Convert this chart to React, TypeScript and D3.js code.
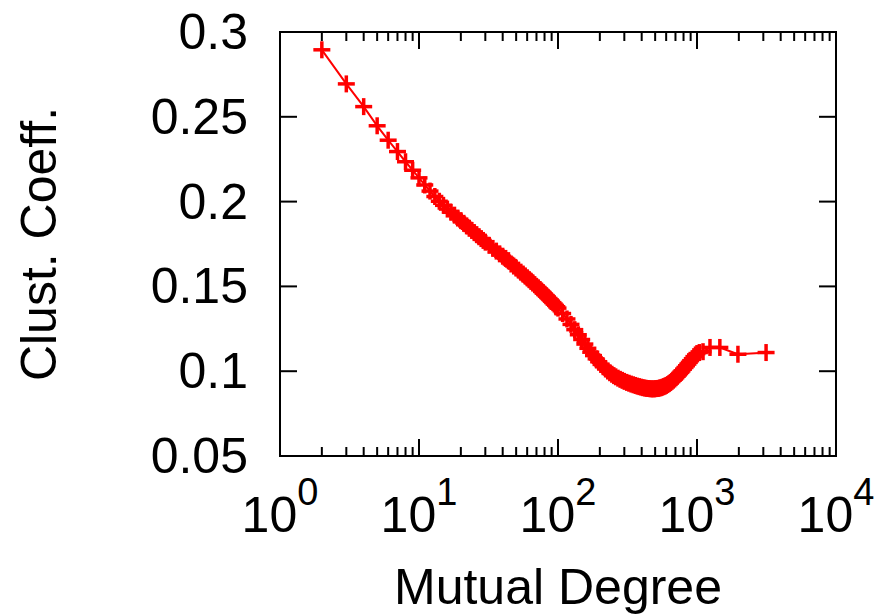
import React from "react";
import * as d3 from "d3";

// mutual degree (x) and clustering coefficient (y)
const degrees = [
  2, 3, 4, 5, 6, 7, 8, 9, 10, 11, 12, 13, 14, 15, 16, 17, 18, 19, 20, 21, 22,
  23, 24, 25, 26, 27, 28, 29,
  30, 32, 34, 36, 38, 40, 42, 44, 46, 48, 50, 52, 54, 56, 58, 60, 62, 64, 66,
  68, 70, 72, 74, 76, 78, 80, 82, 84, 86, 88, 90, 92, 94, 96, 98, 100,
  108, 116, 124, 132, 140, 148, 156, 164, 172, 180, 188, 196, 204, 212, 220,
  228, 236, 244, 252, 260, 270, 280, 290, 300,
  312, 324, 336, 348, 360, 372, 384, 396, 408, 420, 432, 444, 456, 468, 480,
  492, 504, 516, 528, 540, 552, 564, 576, 588, 600, 615, 630, 645, 660, 675,
  690, 705, 720, 735, 750, 765, 780, 800, 820, 840, 860, 880, 900, 925, 950,
  975, 1000, 1040, 1105, 1240, 1460, 1970, 3140,
];
const clustCoeff = [
  0.2895, 0.2694, 0.256, 0.2447, 0.2362, 0.2295, 0.2235, 0.2185, 0.214,
  0.2098, 0.2062, 0.203, 0.2002, 0.1978, 0.1956, 0.1937, 0.192, 0.1903,
  0.1888, 0.1872, 0.1857, 0.1843, 0.183, 0.1817, 0.1805, 0.1793, 0.1782,
  0.1771,
  0.1761, 0.1742, 0.1724, 0.1708, 0.1692, 0.1678, 0.1665, 0.1652, 0.1632,
  0.162, 0.1608, 0.1596, 0.1584, 0.1573, 0.1562, 0.1551, 0.154, 0.153, 0.152,
  0.151, 0.15, 0.1491, 0.1482, 0.1473, 0.1464, 0.1455, 0.1446, 0.1437,
  0.1429, 0.142, 0.1412, 0.1404, 0.1396, 0.1388, 0.138, 0.1372,
  0.134, 0.1308, 0.1276, 0.1245, 0.1215, 0.1187, 0.116, 0.1135, 0.1112,
  0.1092, 0.1073, 0.1056, 0.104, 0.1026, 0.1013, 0.1001, 0.0991, 0.0982,
  0.0974, 0.0967, 0.0959, 0.0952, 0.0946, 0.094,
  0.0934, 0.0929, 0.0924, 0.092, 0.0916, 0.0912, 0.0909, 0.0906, 0.0903,
  0.0901, 0.0899, 0.0898, 0.0897, 0.0896, 0.0896, 0.0896, 0.0897, 0.0898,
  0.0899, 0.0901, 0.0903, 0.0906, 0.0909, 0.0912, 0.0916, 0.0921, 0.0927,
  0.0933, 0.094, 0.0947, 0.0954, 0.0962, 0.097, 0.0978, 0.0986, 0.0994,
  0.1002, 0.1012, 0.1022, 0.1032, 0.1042, 0.1052, 0.1062, 0.1074, 0.1086,
  0.1096, 0.1104, 0.111, 0.1115, 0.114, 0.114, 0.11, 0.111,
];

const xExponents = [0, 1, 2, 3, 4];
const yTicks = [0.05, 0.1, 0.15, 0.2, 0.25, 0.3];

const width = 879;
const height = 616;
const margin = { top: 32, right: 43, bottom: 160, left: 280 };
const font = "'Liberation Sans', Arial, Helvetica, sans-serif";

export default function App() {
  const x = d3
    .scaleLog()
    .domain([1, 1e4])
    .range([margin.left, width - margin.right]);
  const y = d3
    .scaleLinear()
    .domain([0.05, 0.3])
    .range([height - margin.bottom, margin.top]);

  const [x0, x1] = x.range();
  const [y0, y1] = y.range();
  const major = 17;
  const minor = 9;

  const minorTicks: number[] = [];
  for (let e = 0; e < 4; e++) {
    for (let m = 2; m <= 9; m++) minorTicks.push(m * Math.pow(10, e));
  }

  const pts = degrees.map((d, i) => [x(d), y(clustCoeff[i])] as [number, number]);
  const line = d3.line()(pts);

  const arm = 8.5;

  return (
    <svg
      width={width}
      height={height}
      style={{ position: "absolute", left: 0, top: 0, background: "#fff" }}
    >
      <g stroke="#000" strokeWidth={2} fill="none">
        {/* x ticks bottom + mirrored top */}
        {xExponents.map((e) => {
          const px = x(Math.pow(10, e));
          return (
            <g key={"xm" + e}>
              <line x1={px} x2={px} y1={y0} y2={y0 - major} />
              <line x1={px} x2={px} y1={y1} y2={y1 + major} />
            </g>
          );
        })}
        {minorTicks.map((v) => {
          const px = x(v);
          return (
            <g key={"xn" + v}>
              <line x1={px} x2={px} y1={y0} y2={y0 - minor} />
              <line x1={px} x2={px} y1={y1} y2={y1 + minor} />
            </g>
          );
        })}
        {yTicks.map((v) => {
          const py = y(v);
          return (
            <g key={"y" + v}>
              <line x1={x0} x2={x0 + major} y1={py} y2={py} />
              <line x1={x1} x2={x1 - major} y1={py} y2={py} />
            </g>
          );
        })}
        <rect x={x0} y={y1} width={x1 - x0} height={y0 - y1} />
      </g>

      <g fontFamily={font} fontSize={50} fill="#000">
        {yTicks.map((v) => (
          <text
            key={"yl" + v}
            x={x0 - 32}
            y={y(v)}
            textAnchor="end"
            dominantBaseline="central"
          >
            {String(v)}
          </text>
        ))}
        {xExponents.map((e) => (
          <text key={"xl" + e} x={x(Math.pow(10, e))} y={532} textAnchor="middle">
            10
            <tspan fontSize={38} dy={-27}>
              {e}
            </tspan>
          </text>
        ))}
        <text x={(x0 + x1) / 2} y={604} textAnchor="middle">
          Mutual Degree
        </text>
        <text
          transform={`translate(56,${(y0 + y1) / 2}) rotate(-90)`}
          textAnchor="middle"
        >
          Clust. Coeff.
        </text>
      </g>

      <path d={line || ""} fill="none" stroke="#ff0000" strokeWidth={2} />
      <g stroke="#ff0000" strokeWidth={3.5}>
        {pts.map(([px, py], i) => (
          <g key={"p" + i}>
            <line x1={px - arm} x2={px + arm} y1={py} y2={py} />
            <line x1={px} x2={px} y1={py - arm} y2={py + arm} />
          </g>
        ))}
      </g>
    </svg>
  );
}
